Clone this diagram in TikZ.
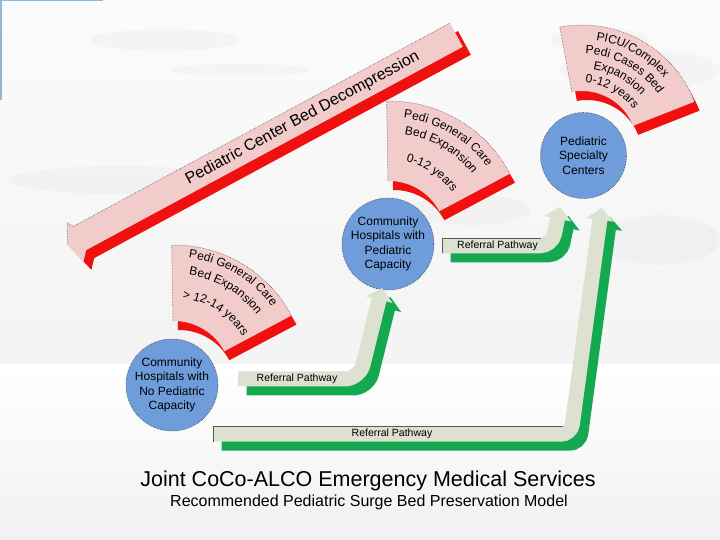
\documentclass[tikz,border=0pt]{standalone}
\usepackage{fontspec}
\setmainfont{Liberation Sans}
\usetikzlibrary{arrows.meta,decorations.text,calc}
\definecolor{pinkface}{HTML}{F2CBCB}
\definecolor{redside}{HTML}{F01010}
\definecolor{circblue}{HTML}{6F9CDB}
\definecolor{arrface}{HTML}{DDE1D0}
\definecolor{arrgreen}{HTML}{14A850}
\definecolor{cornerblue}{HTML}{8FB8D8}
\newcommand{\fansize}{\fontsize{12}{14}\selectfont}
\newcommand{\drawfan}[5]{%
  \fill[redside] ($(#1)+(#2:#5)+(5,-9)$) arc[start angle=#2,end angle=#3,radius=#5]
     -- ($(#1)+(#3:#4)+(5,-9)$) arc[start angle=#3,end angle=#2,radius=#4] -- cycle;
  \fill[pinkface] ($(#1)+(#2:#5)$) arc[start angle=#2,end angle=#3,radius=#5]
     -- ($(#1)+(#3:#4)$) arc[start angle=#3,end angle=#2,radius=#4] -- cycle;
  \draw[densely dotted, black!75, line width=0.5pt] ($(#1)+(#2:#4)$) -- ($(#1)+(#2:#5)$)
     arc[start angle=#2,end angle=#3,radius=#5];
}
\newcommand{\fantext}[5]{%
  \path[decorate, decoration={text along path, text align=center, text={|\fansize|#5}}]
     ($(#1)+(#2:#4)$) arc[start angle=#2,end angle=#3,radius=#4];
}
\begin{document}
\begin{tikzpicture}[x=1pt,y=1pt,
  hub/.style={circle, fill=circblue, draw=black!75, densely dotted, line width=0.6pt,
     minimum size=86pt, inner sep=0pt, align=center, font=\fontsize{12}{14.5}\selectfont},
  facearrow/.style={draw=arrface, line width=15pt, rounded corners=#1,
     -{Triangle[width=27pt,length=12pt]}},
  greenarrow/.style={draw=arrgreen, line width=15pt, rounded corners=#1,
     -{Triangle[width=27pt,length=12pt]}},
  pathlabel/.style={font=\fontsize{10.5}{12}\selectfont, inner sep=1pt},
  cloud/.style={fill=gray!40, opacity=0.12}
]
\useasboundingbox (0,0) rectangle (720,540);
% background
\shade[top color=gray!3, bottom color=gray!9] (0,175) rectangle (720,540);
\shade[top color=white, bottom color=gray!11] (0,0) rectangle (720,175);
% clouds
\fill[cloud] (165,500) ellipse (75 and 11);
\fill[cloud] (240,470) ellipse (70 and 6);
\fill[cloud] (640,470) ellipse (80 and 20);
\fill[cloud] (600,500) ellipse (50 and 12);
\fill[cloud] (120,360) ellipse (110 and 14);
\fill[cloud] (660,300) ellipse (60 and 25);
\fill[cloud] (470,330) ellipse (60 and 15);
% blue corner
\draw[cornerblue, line width=3pt] (0,440) -- (0,540) -- (103,540);

% big decompression arrow
\coordinate (ba1) at (450,517);
\coordinate (ba2) at (73.4,313.7);
\coordinate (ba3) at (67,317.1);
\coordinate (ba4) at (67.4,295.1);
\coordinate (ba5) at (83.4,278.2);
\coordinate (ba6) at (86.2,289.9);
\coordinate (ba7) at (462.8,493.2);
\fill[redside] ([shift={(8,-8)}]ba1) -- ([shift={(8,-8)}]ba2) -- ([shift={(8,-8)}]ba3)
  -- ([shift={(8,-8)}]ba4) -- ([shift={(8,-8)}]ba5) -- ([shift={(8,-8)}]ba6)
  -- ([shift={(8,-8)}]ba7) -- cycle;
\fill[pinkface] (ba1) -- (ba2) -- (ba3) -- (ba4) -- (ba5) -- (ba6) -- (ba7) -- cycle;
\draw[densely dotted, black!75, line width=0.5pt] (ba1) -- (ba2) -- (ba3) -- (ba4);
\node[rotate=28.4, font=\fontsize{16}{19}\selectfont] (bigtxt) at (302.6,421.6)
  {Pediatric Center Bed Decompression};

% fans
\coordinate (fanP) at (582,394);
\coordinate (fanM) at (389,302);
\coordinate (fanL) at (174,162);
\drawfan{fanP}{100.6}{21.5}{55}{121}
\drawfan{fanM}{91}{28}{57}{137}
\drawfan{fanL}{91}{28}{57}{133}
\fantext{fanP}{100.6}{21.5}{106.5}{PICU/Complex}
\fantext{fanP}{100.6}{21.5}{92}{Pedi Cases Bed}
\fantext{fanP}{100.6}{21.5}{77.5}{Expansion}
\fantext{fanP}{100.6}{21.5}{63}{0-12 years}
\fantext{fanM}{91}{28}{121}{Pedi General Care}
\fantext{fanM}{91}{28}{105}{Bed Expansion}
\fantext{fanM}{91}{22}{78}{0-12 years}
\fantext{fanL}{91}{28}{121}{Pedi General Care}
\fantext{fanL}{91}{28}{104}{Bed Expansion}
\fantext{fanL}{91}{24}{80}{> 12-14 years}

% circles
\node[hub] (noped) at (172,155) {Community\\Hospitals with\\No Pediatric\\Capacity};
\node[hub] (withped) at (388,296) {Community\\Hospitals with\\Pediatric\\Capacity};
\node[hub] (special) at (583.5,384.5) {Pediatric\\Specialty\\Centers};

% referral arrows
\coordinate (r1a) at (238,161);
\coordinate (r1b) at (359.5,161);
\coordinate (r1c) at (382,252);
\coordinate (r2a) at (442,294.2);
\coordinate (r2b) at (552,294.2);
\coordinate (r2c) at (560,333);
\coordinate (r3a) at (213,105.8);
\coordinate (r3b) at (571,105.8);
\coordinate (r3c) at (601.5,332);
\draw[greenarrow=15pt] ([shift={(8.5,-9)}]r1a) -- ([shift={(8.5,-9)}]r1b) -- ([shift={(8.5,-9)}]r1c);
\draw[facearrow=15pt] (r1a) -- (r1b) -- (r1c);
\draw[greenarrow=12pt] ([shift={(8.5,-9)}]r2a) -- ([shift={(8.5,-9)}]r2b) -- ([shift={(8.5,-9)}]r2c);
\draw[facearrow=12pt] (r2a) -- (r2b) -- (r2c);
\draw[greenarrow=10pt] ([shift={(8.5,-9)}]r3a) -- ([shift={(8.5,-9)}]r3b) -- ([shift={(8.5,-9)}]r3c);
\draw[facearrow=10pt] (r3a) -- (r3b) -- (r3c);
\draw[black!65, line width=0.7pt] (442,286.7) -- (442,301.7) -- (541,301.7);
\draw[black!65, line width=0.7pt] (213,98.3) -- (213,113.3) -- (563,113.3);
\node[pathlabel] (lab1) at (297,161) {Referral Pathway};
\node[pathlabel] (lab2) at (497.5,294) {Referral Pathway};
\node[pathlabel] (lab3) at (392,106) {Referral Pathway};

% title
\node[font=\fontsize{21.5}{26}\selectfont, anchor=base, inner sep=0pt] (title) at (368,53)
  {Joint CoCo-ALCO Emergency Medical Services};
\node[font=\fontsize{16}{19}\selectfont, anchor=base, inner sep=0pt] (subtitle) at (369,33)
  {Recommended Pediatric Surge Bed Preservation Model};
\end{tikzpicture}
\end{document}
